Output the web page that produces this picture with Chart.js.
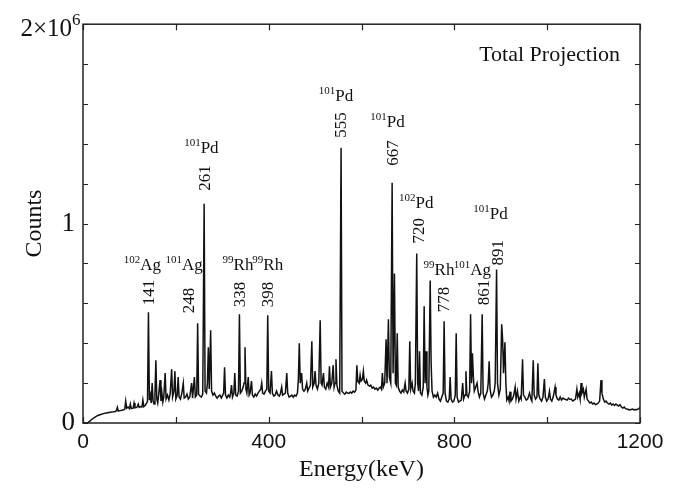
<!DOCTYPE html>
<html lang="en">
<head>
    <meta charset="UTF-8">
    <title>Total Projection</title>
    <script src="https://cdn.jsdelivr.net/npm/chart.js"></script>
    <style>
        body { margin: 0; background: #fff; }
        canvas { display: block; }
    </style>
</head>
<body>
    <canvas id="spectrum" width="691" height="489"></canvas>

    <script>
        // spectrum: energy (keV) and counts (in thousands)
        const energy = [0, 10, 14, 20, 26, 32, 38, 44, 50, 56, 62, 66, 70, 72, 74, 76, 80, 84, 88, 90, 92, 94, 97, 100, 102, 104, 108, 110, 112, 116, 119, 121, 124, 127, 129, 131, 134, 137, 139,
            141, 143, 145, 147, 149, 151, 153, 155, 157, 159, 161, 163, 166, 168, 170, 172, 174, 177, 179, 182, 185, 188, 191, 193, 196, 198, 200, 203, 205, 207, 210, 213, 216, 218, 221, 224, 227, 230, 234, 236, 240, 242, 245,
            247, 249, 252, 255, 258,
            261, 263, 266, 268, 270, 272, 275, 277, 280, 283, 286, 289, 292, 295, 298, 301, 303, 305, 307, 310, 313, 316, 318, 320, 322, 325, 327, 329, 332, 335,
            337, 339, 342, 345, 347, 349, 351, 353, 356, 358, 360, 363, 365, 368, 371, 374, 377, 380, 383, 385, 387, 390, 393, 396,
            398, 400, 403, 406, 408, 411, 414, 417, 420, 423, 425, 428, 430, 433, 436, 439, 441, 444, 447, 450, 453, 456, 459, 462, 464, 466, 468, 471, 473, 476, 479, 482, 484, 487, 490, 493, 495, 498, 500, 502, 505, 508, 511, 513, 515, 518, 520, 523, 526, 529, 531, 533, 536, 539, 541, 543, 545, 547, 550, 553,
            556, 558, 561, 564, 567, 570, 573, 576, 579, 582, 585, 588, 590, 592, 595, 597, 599, 602, 604, 606, 609, 611, 614, 617, 620, 623, 626, 629, 632, 635, 638, 641, 643, 645, 647, 650, 653, 655, 658, 660, 663,
            666, 668, 671, 673, 675, 677, 679, 682, 685, 688, 691, 694, 696, 699, 702, 704, 706, 709, 711, 714, 716,
            719, 721, 723, 725, 727, 730, 733, 735, 737, 739, 741, 743, 745,
            748, 750, 752, 755, 758, 761, 764, 767, 770, 773, 776,
            778, 780, 783, 786, 789, 791, 793, 796, 799, 802,
            804, 806, 809, 812, 815, 818, 820, 823, 825, 827, 830, 833,
            835, 837, 839, 841, 843, 846, 849, 851, 854, 857,
            860, 862, 865, 868, 871, 873, 875, 877, 880, 883, 886, 888,
            891, 893, 896, 899, 902, 904, 906, 909, 911, 913, 916, 918, 920, 922, 925, 928, 931, 933, 936, 939, 942, 944, 947, 949, 952, 955, 958, 962, 965, 967, 970, 972, 975, 978, 980, 982, 985, 988, 991, 994, 996, 999,
            1002, 1005, 1007, 1010, 1013, 1017, 1019, 1022, 1025, 1028, 1031, 1034, 1037, 1040, 1043, 1046, 1049, 1052, 1055, 1058, 1061, 1064, 1066, 1069, 1071, 1073, 1075, 1078, 1080, 1082, 1084, 1086, 1089, 1092, 1095, 1098,
            1101, 1104, 1107, 1110, 1113, 1116, 1118, 1121, 1124, 1127, 1130, 1133, 1136, 1139, 1142, 1145, 1148, 1151, 1154, 1157, 1160, 1163, 1166, 1169, 1172, 1175, 1178, 1181, 1184, 1187, 1190, 1193, 1196, 1198, 1200];

        const countsK = [0, 0, 8, 20, 30, 38, 43, 47, 50, 53, 55, 56, 58, 62, 78, 60, 62, 64, 66, 70, 110, 75, 80, 72, 95, 72, 74, 100, 76, 78, 95, 78, 82, 80, 115, 82, 88, 100, 110,
            555, 115, 140, 100, 200, 110, 95, 140, 315, 120, 100, 140, 215, 110, 150, 105, 130, 250, 120, 140, 115, 150, 270, 130, 160, 260, 120, 140, 230, 130, 120, 150, 200, 125, 130, 145, 120, 130, 200, 125, 230, 130, 140,
            500, 145, 135, 130, 145,
            1100, 160, 150, 200, 380, 170, 465, 160, 140, 150, 135, 125, 135, 140, 125, 140, 150, 280, 140, 125, 140, 130, 150, 190, 130, 150, 250, 140, 135, 160,
            545, 150, 160, 180, 200, 380, 170, 150, 230, 140, 150, 210, 140, 130, 145, 135, 150, 160, 170, 200, 150, 145, 160, 170,
            540, 160, 150, 260, 150, 135, 140, 160, 140, 135, 145, 180, 140, 145, 150, 250, 150, 130, 135, 140, 130, 140, 135, 150, 220, 400, 200, 250, 170, 160, 170, 200, 160, 175, 190, 410, 180, 200, 260, 190, 170, 200, 515, 200, 190, 250, 180, 170, 200, 180, 285, 180, 200, 290, 180, 200, 320, 190, 160, 150,
            1380, 160, 150, 145, 155, 150, 148, 155, 150, 160, 155, 165, 290, 210, 200, 240, 210, 220, 260, 210, 200, 215, 190, 185, 190, 175, 180, 170, 175, 165, 175, 180, 170, 250, 180, 200, 420, 200, 520, 230, 200,
            1205, 250, 750, 200, 190, 450, 180, 160, 150, 165, 155, 200, 160, 150, 170, 410, 170, 200, 160, 150, 200,
            850, 200, 160, 360, 150, 140, 180, 585, 200, 360, 180, 140, 160,
            715, 300, 160, 130, 140, 130, 150, 120, 110, 130, 150,
            510, 150, 110, 105, 120, 230, 120, 105, 110, 140,
            450, 130, 105, 110, 115, 200, 120, 140, 260, 140, 130, 160,
            545, 200, 350, 230, 160, 180, 200, 160, 130, 150,
            545, 150, 120, 140, 160, 200, 310, 170, 130, 140, 160, 200,
            770, 200, 140, 170, 495, 420, 250, 405, 200, 115, 130, 110, 157, 110, 120, 140, 180, 120, 160, 110, 130, 120, 320, 140, 130, 115, 120, 150, 120, 110, 315, 140, 120, 130, 300, 140, 120, 110, 130, 220, 130, 110,
            120, 160, 120, 110, 130, 180, 140, 120, 115, 130, 115, 125, 120, 118, 115, 125, 118, 120, 110, 115, 120, 170, 130, 150, 120, 200, 150, 170, 130, 150, 170, 120, 110, 100, 105, 95,
            100, 92, 95, 100, 110, 215, 150, 120, 105, 110, 100, 95, 100, 90, 95, 88, 95, 90, 85, 92, 80, 75, 80, 72, 70, 68, 65, 68, 70, 66, 68, 67, 70, 72, 80];

        // peak labels: energy text, where the rotated number sits, and the nuclide above it
        const peakText = ['141', '248', '261', '338', '398', '555', '667', '720', '778', '861', '891'];
        const peakTextE = [141, 227, 261, 338, 398, 555, 667, 722, 776, 862, 892];
        const peakTextY = [590, 550, 1165, 580, 580, 1430, 1290, 900, 555, 590, 790];   // thousands
        const nuclideMass = ['102', '101', '101', '99', '99', '101', '101', '102', '99', '101', '101'];
        const nuclideEl = ['Ag', 'Ag', 'Pd', 'Rh', 'Rh', 'Pd', 'Pd', 'Pd', 'Rh', 'Ag', 'Pd'];
        const nuclideE = [128, 218, 255, 334, 398, 545, 656, 718, 767, 839, 878];
        const nuclideY = [765, 765, 1355, 765, 765, 1615, 1485, 1080, 740, 740, 1025]; // thousands

        const points = energy.map((e, i) => ({ x: e, y: countsK[i] * 1000 }));

        const serif = '"Liberation Serif", "Times New Roman", serif';
        const sans = '"Liberation Sans", Arial, sans-serif';

        const decor = {
            id: 'decor',
            afterDraw(chart) {
                const { ctx, chartArea: a, scales: { x, y } } = chart;
                ctx.save();

                // frame + inward ticks on all four sides
                ctx.strokeStyle = '#222';
                ctx.lineWidth = 1.5;
                ctx.strokeRect(a.left, a.top, a.right - a.left, a.bottom - a.top);
                ctx.lineWidth = 1.2;
                ctx.beginPath();
                x.ticks.forEach(t => {
                    const px = Math.round(x.getPixelForValue(t.value)) + 0.5;
                    ctx.moveTo(px, a.bottom); ctx.lineTo(px, a.bottom - 6);
                    ctx.moveTo(px, a.top); ctx.lineTo(px, a.top + 6);
                });
                y.ticks.forEach(t => {
                    const py = Math.round(y.getPixelForValue(t.value)) + 0.5;
                    ctx.moveTo(a.left, py); ctx.lineTo(a.left + 5, py);
                    ctx.moveTo(a.right, py); ctx.lineTo(a.right - 5, py);
                });
                ctx.stroke();

                ctx.fillStyle = '#111';

                // top label of y axis: 2×10^6
                ctx.textBaseline = 'alphabetic';
                ctx.textAlign = 'right';
                ctx.font = '25px ' + serif;
                ctx.fillText('2×10', a.left - 11, a.top + 12);
                ctx.textAlign = 'left';
                ctx.font = '17px ' + serif;
                ctx.fillText('6', a.left - 11, a.top + 1);

                // Total Projection
                ctx.textAlign = 'right';
                ctx.font = '22px ' + serif;
                ctx.fillText('Total Projection', a.right - 20, a.top + 37);

                // rotated peak energies
                ctx.font = '17px ' + serif;
                peakText.forEach((txt, i) => {
                    ctx.save();
                    ctx.translate(x.getPixelForValue(peakTextE[i]), y.getPixelForValue(peakTextY[i] * 1000));
                    ctx.rotate(-Math.PI / 2);
                    ctx.textAlign = 'left';
                    ctx.textBaseline = 'middle';
                    ctx.fillText(txt, 0, 1);
                    ctx.restore();
                });

                // nuclide names with mass number as superscript
                ctx.textAlign = 'left';
                ctx.textBaseline = 'alphabetic';
                nuclideEl.forEach((el, i) => {
                    ctx.font = '11px ' + serif;
                    const w1 = ctx.measureText(nuclideMass[i]).width;
                    ctx.font = '17px ' + serif;
                    const w2 = ctx.measureText(el).width;
                    const cx = x.getPixelForValue(nuclideE[i]);
                    const base = y.getPixelForValue(nuclideY[i] * 1000);
                    const start = cx - (w1 + w2) / 2;
                    ctx.fillText(el, start + w1, base);
                    ctx.font = '11px ' + serif;
                    ctx.fillText(nuclideMass[i], start, base - 7);
                });

                ctx.restore();
            }
        };

        const chart = new Chart(document.getElementById('spectrum'), {
            type: 'line',
            data: {
                datasets: [{
                    data: points,
                    borderColor: '#111',
                    borderWidth: 1.5,
                    pointRadius: 0,
                    tension: 0,
                    fill: false
                }]
            },
            options: {
                responsive: false,
                animation: false,
                layout: { padding: { top: 23, right: 51, left: 0, bottom: 0 } },
                plugins: { legend: { display: false }, tooltip: { enabled: false } },
                scales: {
                    x: {
                        type: 'linear',
                        min: 0,
                        max: 1200,
                        grid: { display: false, drawTicks: false },
                        border: { display: false },
                        ticks: {
                            stepSize: 200,
                            autoSkip: false,
                            maxRotation: 0,
                            padding: 7,
                            color: '#111',
                            font: { family: sans, size: 21 },
                            callback: v => (v % 400 === 0 ? String(v) : '')
                        },
                        title: {
                            display: true,
                            text: 'Energy(keV)',
                            color: '#111',
                            font: { family: serif, size: 24 },
                            padding: { top: 0, bottom: 5 }
                        },
                        afterFit: s => { s.height = 66; }
                    },
                    y: {
                        min: 0,
                        max: 2000000,
                        grid: { display: false, drawTicks: false },
                        border: { display: false },
                        ticks: {
                            stepSize: 200000,
                            autoSkip: false,
                            padding: 8,
                            color: '#111',
                            font: { family: serif, size: 27 },
                            callback: v => (v === 0 ? '0' : v === 1000000 ? '1' : '')
                        },
                        title: {
                            display: true,
                            text: 'Counts',
                            color: '#111',
                            font: { family: serif, size: 24 },
                            padding: { top: 20, bottom: 0 }
                        },
                        afterFit: s => { s.width = 83; }
                    }
                }
            },
            plugins: [decor]
        });
    </script>
</body>
</html>
